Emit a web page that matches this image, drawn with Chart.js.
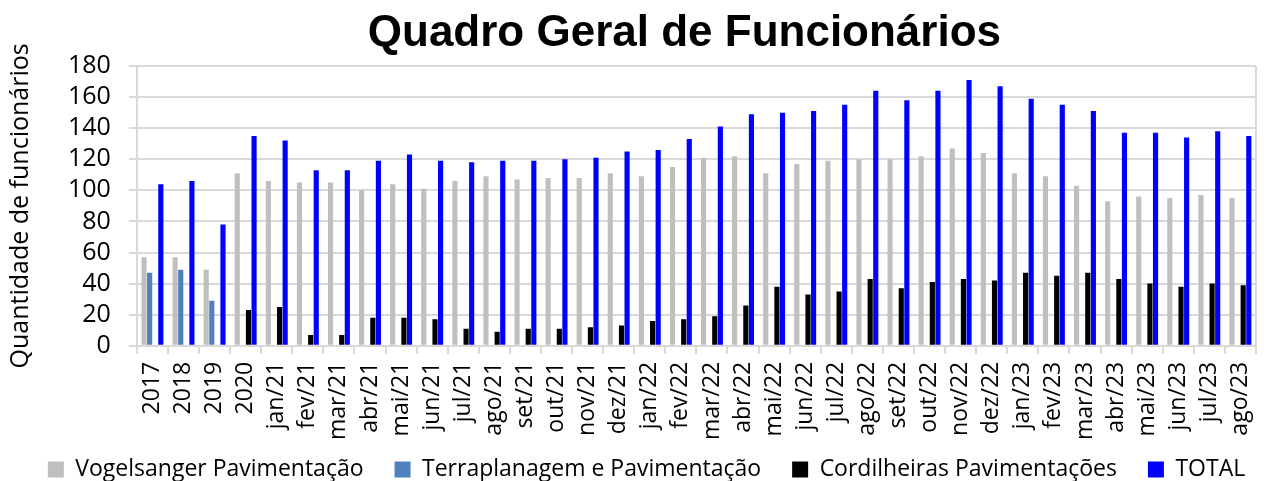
<!DOCTYPE html>
<html>
<head>
<meta charset="utf-8">
<script src="https://cdn.jsdelivr.net/npm/chart.js@4.4.0/dist/chart.umd.min.js"></script>
<style>
  html, body { margin: 0; padding: 0; background: #fff; }
  #wrap { width: 1276px; height: 481px; }
</style>
</head>
<body>
<div id="wrap"><canvas id="funcChart" width="1276" height="481"></canvas></div>
<script>
// Categorias (anos e meses)
const categorias = ['2017', '2018', '2019', '2020',
    'jan/21', 'fev/21', 'mar/21', 'abr/21', 'mai/21', 'jun/21', 'jul/21', 'ago/21', 'set/21', 'out/21', 'nov/21', 'dez/21',
    'jan/22', 'fev/22', 'mar/22', 'abr/22', 'mai/22', 'jun/22', 'jul/22', 'ago/22', 'set/22', 'out/22', 'nov/22', 'dez/22',
    'jan/23', 'fev/23', 'mar/23', 'abr/23', 'mai/23', 'jun/23', 'jul/23', 'ago/23'];

// Séries
const vogelsanger = [57, 57, 49, 111,
    106, 105, 105, 100, 104, 101, 106, 109, 107, 108, 108, 111,
    109, 115, 121, 122, 111, 117, 119, 120, 120, 122, 127, 124,
    111, 109, 103, 93, 96, 95, 97, 95];
const terraplanagem = [47, 49, 29, 0,
    0, 0, 0, 0, 0, 0, 0, 0, 0, 0, 0, 0,
    0, 0, 0, 0, 0, 0, 0, 0, 0, 0, 0, 0,
    0, 0, 0, 0, 0, 0, 0, 0];
const cordilheiras = [0, 0, 0, 23,
    25, 7, 7, 18, 18, 17, 11, 9, 11, 11, 12, 13,
    16, 17, 19, 26, 38, 33, 35, 43, 37, 41, 43, 42,
    47, 45, 47, 43, 40, 38, 40, 39];
const total = [104, 106, 78, 135,
    132, 113, 113, 119, 123, 119, 118, 119, 119, 120, 121, 125,
    126, 133, 141, 149, 150, 151, 155, 164, 158, 164, 171, 167,
    159, 155, 151, 137, 137, 134, 138, 135];

const yTicks = [0, 20, 40, 60, 80, 100, 120, 140, 160, 180];
const tituloTexto = 'Quadro Geral de Funcionários';

// Título centrado sobre a área do gráfico, borda direita e legenda um pouco mais alta
const extras = {
    id: 'extras',
    afterLayout(chart) {
        // aproxima a legenda dos rótulos do eixo x
        chart.legend.top -= 21;
        chart.legend.bottom -= 21;
    },
    afterDraw(chart) {
        const { ctx, chartArea } = chart;
        ctx.save();
        ctx.strokeStyle = '#D9D9D9';
        ctx.lineWidth = 2;
        ctx.beginPath();
        ctx.moveTo(chartArea.right, chartArea.top);
        ctx.lineTo(chartArea.right, chartArea.bottom);
        ctx.stroke();

        ctx.fillStyle = '#000';
        ctx.font = 'bold 44px "Liberation Sans"';
        ctx.textAlign = 'center';
        ctx.textBaseline = 'middle';
        ctx.fillText(tituloTexto, (chartArea.left + chartArea.right) / 2 - 12, 34);
        ctx.restore();
    }
};

const ctx = document.getElementById('funcChart').getContext('2d');
new Chart(ctx, {
    type: 'bar',
    data: {
        labels: categorias,
        datasets: [
            { label: 'Vogelsanger Pavimentação', data: vogelsanger, backgroundColor: '#BFBFBF' },
            { label: 'Terraplanagem e Pavimentação', data: terraplanagem, backgroundColor: '#4F81BD' },
            { label: 'Cordilheiras Pavimentações', data: cordilheiras, backgroundColor: '#000000' },
            { label: 'TOTAL', data: total, backgroundColor: '#0000FF' }
        ]
    },
    options: {
        responsive: false,
        animation: false,
        layout: { padding: { left: 6, right: -11, top: 66, bottom: -31 } },
        datasets: {
            bar: { categoryPercentage: 0.72, barPercentage: 0.92 }
        },
        plugins: {
            title: { display: false },
            legend: {
                position: 'bottom',
                labels: {
                    color: '#000',
                    font: { family: 'Open Sans', size: 23 },
                    boxWidth: 16,
                    boxHeight: 16,
                    padding: 31
                }
            },
            tooltip: { enabled: false }
        },
        scales: {
            x: {
                grid: { drawOnChartArea: false, color: '#D9D9D9', lineWidth: 2, tickLength: 8 },
                border: { color: '#D9D9D9', width: 2 },
                ticks: {
                    autoSkip: false,
                    minRotation: 90,
                    maxRotation: 90,
                    color: '#000',
                    font: { family: 'Open Sans', size: 23 },
                    padding: 8
                }
            },
            y: {
                min: 0,
                max: 180,
                afterBuildTicks: axis => { axis.ticks = yTicks.map(v => ({ value: v })); },
                grid: { color: '#D9D9D9', lineWidth: 2, tickLength: 8 },
                border: { color: '#D9D9D9', width: 2 },
                ticks: {
                    autoSkip: false,
                    color: '#000',
                    font: { family: 'Open Sans', size: 25 },
                    padding: 18
                },
                title: {
                    display: true,
                    text: 'Quantidade de funcionários',
                    color: '#000',
                    font: { family: 'Open Sans', size: 25 },
                    padding: { top: 0, bottom: 14 }
                }
            }
        }
    },
    plugins: [extras]
});
</script>
</body>
</html>
